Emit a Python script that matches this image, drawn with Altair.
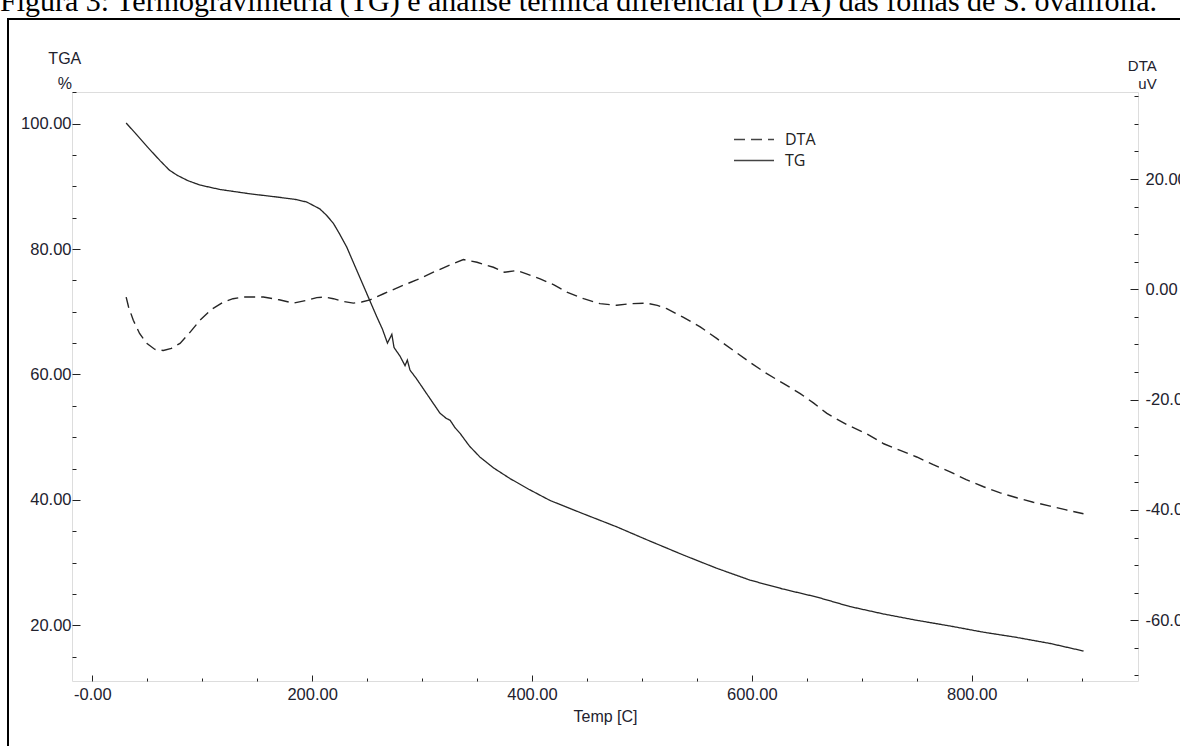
import altair as alt
import pandas as pd

# ---- data ----
tg_temp = [30.8, 40, 50, 61.6, 70, 76.8, 87, 98, 116, 143.5, 167.8, 185, 195, 207, 213, 219.3,
           225, 231.5, 240.6, 249.7, 258.8, 264, 268.5, 272.5, 274.5, 280, 284.5, 286.6, 289,
           295, 304.3, 316.4, 322, 325.5, 330, 334.6, 343, 352.8, 365, 380, 397, 416.5, 445,
           477.1, 505, 537.8, 568, 598.4, 628, 659.2, 689, 720, 750, 780, 810.7, 840, 871.5, 901.7]
tg_mass = [100.1, 98.3, 96.3, 94.1, 92.6, 91.8, 90.9, 90.2, 89.5, 88.8, 88.3, 87.9, 87.5, 86.4, 85.4, 84.1,
           82.4, 80.3, 76.6, 72.9, 69.2, 67.2, 65.0, 66.4, 64.3, 62.9, 61.4, 62.3, 60.7,
           59.3, 56.9, 53.8, 53.0, 52.7, 51.5, 50.6, 48.6, 46.8, 45.1, 43.4, 41.7, 39.9, 37.9,
           35.7, 33.6, 31.2, 29.1, 27.2, 25.8, 24.5, 23.0, 21.8, 20.8, 19.9, 18.9, 18.1, 17.1, 15.9]

dta_temp = [30.8, 33, 37.3, 43, 49.5, 57, 64.6, 72, 79.8, 88, 98, 108, 119.2, 128, 137.4, 155.6,
            170, 182.9, 195, 204.2, 212, 219.3, 228, 237.5, 245, 252.7, 265, 280, 295, 310.3,
            325, 337.6, 350, 364.9, 375, 386.2, 395, 407.4, 420, 431.7, 447, 461.9, 477.1, 490,
            504.4, 514, 522.6, 537, 553, 568, 583.3, 598, 613.7, 629, 644, 656, 668.3, 686,
            704.6, 720, 735, 750, 765, 780.4, 795, 810.8, 826, 841, 856, 871.4, 886, 901.7]
dta_uv = [-1.4, -3.2, -5.6, -8.0, -9.8, -10.9, -11.1, -10.7, -9.8, -8.0, -5.6, -3.7, -2.3, -1.7, -1.4, -1.4,
          -1.9, -2.5, -2.0, -1.5, -1.4, -1.7, -2.2, -2.5, -2.3, -1.9, -0.8, 0.5, 1.7, 3.1,
          4.4, 5.4, 4.9, 4.0, 3.1, 3.4, 2.8, 1.9, 0.8, -0.5, -1.7, -2.6, -2.9, -2.6,
          -2.5, -2.9, -3.5, -5.0, -6.8, -8.9, -11.1, -13.2, -15.3, -17.1, -18.9, -20.6, -22.5, -24.5,
          -26.2, -28.0, -29.2, -30.4, -31.8, -33.1, -34.5, -35.8, -36.9, -37.8, -38.6, -39.3, -40.0, -40.7]

x_major = [0, 200, 400, 600, 800]
x_minor = [50, 100, 150, 250, 300, 350, 450, 500, 550, 650, 700, 750, 850, 900]
tga_major = [20, 40, 60, 80, 100]
tga_minor = [15, 25, 30, 35, 45, 50, 55, 65, 70, 75, 85, 90, 95, 105]
dta_major = [-60, -40, -20, 0, 20]
dta_minor = [-70, -65, -55, -50, -45, -35, -30, -25, -15, -10, -5, 5, 10, 15, 25, 30, 35]
series_names = ["DTA", "TG"]
caption = ["Figura 3: Termogravimetria (TG) e análise térmica diferencial (DTA) das folhas de S. ovalifolia."]

tg_df = pd.DataFrame({"temp": tg_temp, "val": tg_mass, "serie": "TG"})
dta_df = pd.DataFrame({"temp": dta_temp, "val": dta_uv, "serie": "DTA"})
cap_df = pd.DataFrame({"t": caption})

AX_FONT = "Liberation Sans"
LAB = "#22222e"
LINE = "#262626"

xscale = alt.Scale(domain=[-18.47, 951.3], nice=False, zero=False)
tgscale = alt.Scale(domain=[11.12, 105.04], nice=False, zero=False)
dtascale = alt.Scale(domain=[-71.02, 35.78], nice=False, zero=False)

LABEL_EXPR = "replace(format(datum.value, '.2f'), '\u2212', '-')"

common_axis = dict(domain=False, grid=False, tickColor="#222", tickWidth=1,
                   labelFont=AX_FONT, labelFontSize=16.5, labelColor=LAB,
                   labelOverlap=False, labelFlush=False)

x_major_axis = alt.Axis(values=x_major, orient="bottom", offset=-6, tickSize=6, labelPadding=5,
                        labelExpr="datum.value == 0 ? '-0.00' : " + LABEL_EXPR,
                        title="Temp  [C]", titleFont=AX_FONT, titleFontSize=16,
                        titleFontWeight="normal", titleColor=LAB, titlePadding=6, **common_axis)
x_minor_axis = alt.Axis(values=x_minor, orient="bottom", offset=-3, tickSize=3, labels=False,
                        title=None, **common_axis)

tg_major_axis = alt.Axis(values=tga_major, orient="left", offset=-8, tickSize=8, labelPadding=1,
                         labelExpr=LABEL_EXPR, title=["TGA", "%"], titleAngle=0, titleAlign="center",
                         titleBaseline="alphabetic", titleX=-15.7, titleY=-28.4,
                         titleLineHeight=24.7, titleFont=AX_FONT, titleFontSize=16,
                         titleFontWeight="normal", titleColor=LAB, **common_axis)
tg_minor_axis = alt.Axis(values=tga_minor, orient="left", offset=-4, tickSize=4, labels=False,
                         title=None, **common_axis)

dta_major_axis = alt.Axis(values=dta_major, orient="right", offset=-8, tickSize=8, labelPadding=7,
                          labelExpr=LABEL_EXPR, title=["DTA", "uV"], titleAngle=0, titleAlign="right",
                          titleBaseline="alphabetic", titleX=26.2, titleY=-21.7,
                          titleLineHeight=18.5, titleFont=AX_FONT, titleFontSize=15,
                          titleFontWeight="normal", titleColor=LAB, **common_axis)
dta_minor_axis = alt.Axis(values=dta_minor, orient="right", offset=-4, tickSize=4, labels=False,
                          title=None, **common_axis)

dash = alt.StrokeDash("serie:N",
                      scale=alt.Scale(domain=series_names, range=[[11, 6], [1, 0]]),
                      legend=alt.Legend(orient="none", legendX=661, legendY=38, title=None,
                                        symbolType="stroke", symbolSize=1600,
                                        symbolStrokeWidth=1.4, symbolStrokeColor="#444",
                                        labelFont="Open Sans", labelFontSize=16,
                                        labelColor="#222", labelOffset=10,
                                        clipHeight=19, rowPadding=2))

tg_line = alt.Chart(tg_df).mark_line(color=LINE, strokeWidth=1.3).encode(
    x=alt.X("temp:Q", scale=xscale, axis=x_major_axis),
    y=alt.Y("val:Q", scale=tgscale, axis=tg_major_axis),
    strokeDash=dash,
)
tg_ghost = alt.Chart(tg_df).mark_line(strokeOpacity=0).encode(
    x=alt.X("temp:Q", scale=xscale, axis=x_minor_axis),
    y=alt.Y("val:Q", scale=tgscale, axis=tg_minor_axis),
)
dta_line = alt.Chart(dta_df).mark_line(color=LINE, strokeWidth=1.4).encode(
    x=alt.X("temp:Q", scale=xscale, axis=None),
    y=alt.Y("val:Q", scale=dtascale, axis=dta_major_axis),
    strokeDash=dash,
)
dta_ghost = alt.Chart(dta_df).mark_line(strokeOpacity=0).encode(
    x=alt.X("temp:Q", scale=xscale, axis=None),
    y=alt.Y("val:Q", scale=dtascale, axis=dta_minor_axis),
)
box = alt.Chart(alt.Data(values=[{}])).mark_rect(fillOpacity=0, stroke="black", strokeWidth=2).encode(
    x=alt.value(-64), x2=alt.value(1130), y=alt.value(-73), y2=alt.value(700)
)
cap = alt.Chart(cap_df).mark_text(font="Liberation Serif", fontSize=30, align="left",
                                  baseline="alphabetic", color="black").encode(
    text="t:N", x=alt.value(-72), y=alt.value(-81)
)

chart = alt.layer(box, cap, tg_line, tg_ghost, dta_line, dta_ghost).resolve_scale(
    y="independent"
).resolve_axis(
    x="independent", y="independent"
).properties(
    width=1066, height=589,
    autosize=alt.AutoSizeParams(type="none"),
    padding={"left": 72, "top": 92, "right": 42, "bottom": 65},
).configure_view(stroke="#111", strokeWidth=1.5).configure(background="white")

chart.save("out.html", embed_options={"renderer": "svg", "actions": False})
